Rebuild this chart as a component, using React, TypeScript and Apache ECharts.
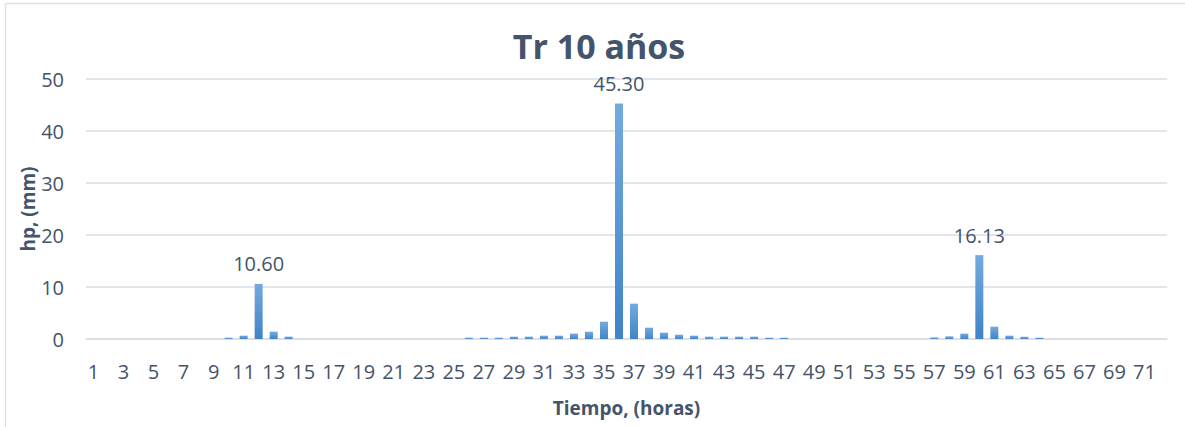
import React, { useEffect, useRef } from "react";
import * as echarts from "echarts";

const hours: string[] = Array.from({ length: 72 }, (_, i) => String(i + 1));

const hpValues: number[] = [
  0, 0, 0, 0, 0, 0, 0, 0, 0, 0.25,
  0.64, 10.6, 1.41, 0.45, 0, 0, 0, 0, 0, 0,
  0, 0, 0, 0, 0, 0.25, 0.25, 0.25, 0.45, 0.45,
  0.64, 0.64, 1.03, 1.41, 3.33, 45.3, 6.8, 2.18, 1.22, 0.83,
  0.64, 0.45, 0.45, 0.45, 0.45, 0.25, 0.25, 0, 0, 0,
  0, 0, 0, 0, 0, 0, 0.3, 0.51, 1.03, 16.13,
  2.37, 0.64, 0.45, 0.25, 0, 0, 0, 0, 0, 0,
  0, 0,
];

const labeledHours: string[] = ["12", "36", "60"];

const yTicks = { min: 0, max: 50, interval: 10 };

const TEXT = "#44546a";
const GRID = "#d9dee6";
const FONT = "'Open Sans', 'Noto Sans', sans-serif";

export default function App() {
  const ref = useRef<HTMLDivElement>(null);

  useEffect(() => {
    if (!ref.current) return;
    const chart = echarts.init(ref.current, null, { renderer: "svg" });
    const data = hpValues.map((v, i) => ({
      value: v,
      label: { show: labeledHours.includes(hours[i]) },
    }));
    chart.setOption({
      animation: false,
      textStyle: { fontFamily: FONT },
      title: {
        text: "Tr 10 años",
        left: 599,
        top: 29,
        padding: 0,
        textAlign: "center",
        textStyle: {
          fontFamily: FONT,
          fontSize: 34,
          lineHeight: 34,
          fontWeight: "bold",
          color: TEXT,
        },
      },
      graphic: [
        {
          type: "line",
          shape: { x1: 5.5, y1: 3.5, x2: 1185, y2: 3.5 },
          style: { stroke: "#dde2ea", lineWidth: 1.5 },
        },
        {
          type: "line",
          shape: { x1: 5.5, y1: 3.5, x2: 5.5, y2: 427 },
          style: { stroke: "#dde2ea", lineWidth: 1.5 },
        },
      ],
      grid: { left: 86, right: 18, top: 79, bottom: 88, containLabel: false },
      xAxis: {
        type: "category",
        data: hours,
        name: "Tiempo, (horas)",
        nameLocation: "middle",
        nameGap: 59,
        nameMoveOverlap: false,
        nameTextStyle: {
          fontFamily: FONT,
          fontSize: 19,
          fontWeight: "bold",
          color: TEXT,
          verticalAlign: "top",
        },
        axisLine: { show: true, lineStyle: { color: GRID, width: 1.5 } },
        axisTick: { show: false },
        axisLabel: {
          interval: 1,
          fontFamily: FONT,
          fontSize: 20,
          color: TEXT,
          margin: 22,
        },
      },
      yAxis: {
        type: "value",
        min: yTicks.min,
        max: yTicks.max,
        interval: yTicks.interval,
        name: "hp, (mm)",
        nameLocation: "middle",
        nameGap: 49,
        nameMoveOverlap: false,
        nameRotate: 90,
        nameTextStyle: {
          fontFamily: FONT,
          fontSize: 19,
          fontWeight: "bold",
          color: TEXT,
        },
        axisLine: { show: false },
        axisTick: { show: false },
        axisLabel: {
          fontFamily: FONT,
          fontSize: 20,
          color: TEXT,
          margin: 22,
        },
        splitLine: { lineStyle: { color: GRID, width: 1.5 } },
      },
      series: [
        {
          type: "bar",
          data,
          barWidth: 8,
          itemStyle: {
            color: new echarts.graphic.LinearGradient(0, 0, 0, 1, [
              { offset: 0, color: "#74aade" },
              { offset: 1, color: "#3f84c8" },
            ]),
          },
          label: {
            position: "top",
            distance: 10,
            fontFamily: FONT,
            fontSize: 20,
            lineHeight: 20,
            color: TEXT,
            formatter: (p: any) => Number(p.value).toFixed(2),
          },
        },
      ],
    });
    return () => chart.dispose();
  }, []);

  return (
    <div
      ref={ref}
      style={{ position: "absolute", left: 0, top: 0, width: 1185, height: 427 }}
    />
  );
}
